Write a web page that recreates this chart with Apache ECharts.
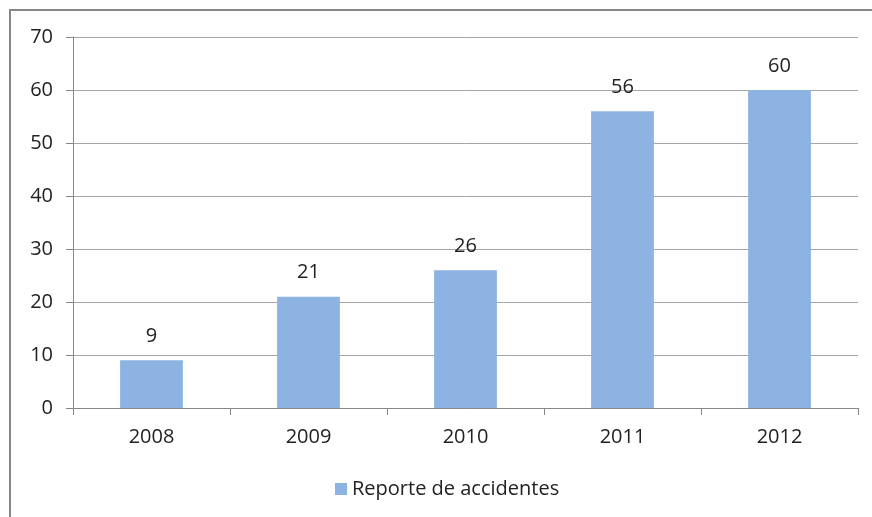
<!DOCTYPE html>
<html>
<head>
<meta charset="utf-8">
<script src="https://cdn.jsdelivr.net/npm/echarts@6/dist/echarts.min.js"></script>
<style>
	html, body { margin: 0; padding: 0; background: #fff; }
	#chart { width: 872px; height: 517px; }
	.frame { position: absolute; left: 9px; top: 9px; width: 880px; height: 530px; border: 2px solid #888; box-sizing: border-box; pointer-events: none; }
</style>
</head>
<body>
<div id="chart"></div>
<div class="frame"></div>
<script>
const years = ["2008", "2009", "2010", "2011", "2012"];
const accidents = [9, 21, 26, 56, 60];
const seriesName = "Reporte de accidentes";

const chart = echarts.init(document.getElementById("chart"), null, { renderer: "canvas" });
const fontFamily = "'Open Sans', 'Noto Sans', sans-serif";

chart.setOption({
	animation: false,
	grid: { left: 73, right: 14, top: 37, bottom: 109, containLabel: false },
	legend: {
		bottom: 13,
		left: 330,
		icon: "rect",
		itemWidth: 12,
		itemHeight: 12,
		itemGap: 6,
		textStyle: { fontFamily, fontSize: 20, color: "#222" },
		data: [seriesName],
	},
	xAxis: {
		type: "category",
		data: years,
		axisLine: { lineStyle: { color: "#888", width: 1 } },
		axisTick: { show: true, length: 7, lineStyle: { color: "#888" } },
		axisLabel: { fontFamily, fontSize: 20, color: "#222", margin: 19 },
	},
	yAxis: {
		type: "value",
		min: 0,
		max: 70,
		interval: 10,
		axisLine: { show: true, lineStyle: { color: "#888" } },
		axisTick: { show: true, length: 7, lineStyle: { color: "#888" } },
		splitLine: { lineStyle: { color: "#a6a6a6", width: 1 } },
		axisLabel: { fontFamily, fontSize: 20, color: "#222", margin: 20 },
	},
	series: [
		{
			name: seriesName,
			type: "bar",
			data: accidents,
			barWidth: "40%",
			itemStyle: { color: "#8db3e2" },
			label: {
				show: true,
				position: "top",
				distance: 14,
				fontFamily,
				fontSize: 20,
				color: "#222",
			},
		},
	],
});
</script>
</body>
</html>
